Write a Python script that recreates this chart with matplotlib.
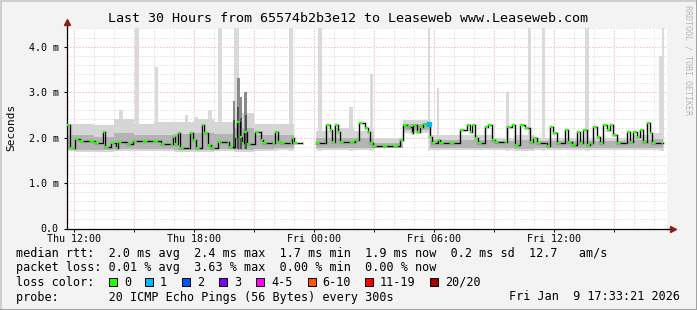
import matplotlib
matplotlib.use('Agg')
import matplotlib.pyplot as plt
import numpy as np
from matplotlib.patches import Rectangle
from matplotlib.lines import Line2D

# median rtt (ms) as steps, hours relative to Thu 12:00
med_hours = [-0.35, -0.20, 0.00, 0.05, 0.30, 1.05, 1.45, 1.55, 1.85, 2.10, 2.20, 2.65, 2.95,
             4.35, 4.95, 5.05, 5.20, 5.30, 5.80, 5.95, 6.10, 6.40, 6.50, 6.70, 6.85, 7.20,
             7.75, 8.05, 8.15, 8.30, 8.40, 8.50, 8.65, 9.05, 9.35, 9.45, 10.05, 10.20, 10.35,
             10.90, 11.00, 11.40, 12.10, 12.60, 12.80, 12.90, 13.05, 13.20, 13.30, 14.05,
             14.25, 14.55, 14.70, 14.80, 14.95, 16.30, 16.45, 16.65, 16.90, 16.95, 17.15,
             17.30, 17.45, 17.80, 17.90, 18.20, 18.30, 19.30, 19.65, 19.80, 19.90, 20.05,
             20.20, 20.55, 20.70, 20.90, 21.05, 21.65, 21.90, 22.05, 22.30, 22.55, 22.80,
             22.95, 23.15, 23.65, 23.80, 23.95, 24.15, 24.55, 24.70, 24.90, 25.15, 25.30,
             25.45, 25.65, 25.80, 25.95, 26.15, 26.30, 26.45, 26.65, 26.80, 26.95, 27.15,
             27.65, 27.80, 27.95, 28.15, 28.30, 28.45, 28.65, 28.80, 28.90, 29.45]
med_ms = [2.28, 1.77, 1.77, 1.96, 1.93, 1.89, 2.12, 1.80, 1.89, 1.78, 1.91, 1.85, 1.93,
          1.85, 2.02, 1.85, 2.10, 1.77, 2.10, 1.95, 1.78, 2.28, 2.10, 1.84, 1.77, 1.91,
          1.80, 2.02, 2.35, 2.02, 1.88, 2.13, 1.86, 2.13, 1.95, 1.88, 2.12, 1.91, 1.88,
          1.99, 1.89, np.nan, 1.89, 2.28, 2.17, 1.91, 2.28, 2.13, 1.90, 1.95,
          2.32, 2.21, 2.13, 1.88, 1.82, 1.95, 2.28, 2.24, 2.10, 2.28, 2.13,
          2.24, 2.30, 2.02, 1.89, 1.95, 1.88, 2.17, 2.28, 2.13, 2.28, 1.99,
          1.88, 2.24, 2.28, 1.95, 1.91, 2.24, 2.28, 1.84, 2.28, 2.21, 1.91,
          1.99, 1.89, 1.82, 2.24, 2.10, 1.88, 2.17, 1.91, 1.84, 2.13, 1.88,
          2.17, 1.84, 1.88, 2.24, 2.02, 1.88, 2.28, 2.17, 2.28, 2.06, 1.88,
          2.13, 1.91, 2.13, 2.02, 2.17, 1.91, 2.32, 2.10, 1.88, 1.88]

# smoke envelope (min / upper ping) per hour bin
smoke_hours = [-0.35, 0, 1, 2, 3, 4, 5, 6, 7, 8, 9, 10, 11, 11.40, 12.10, 13, 14, 15, 16.45,
               17.80, 19, 20, 21, 22, 23, 24, 25, 26, 27, 28, 29, 29.45]
smoke_lo = [1.70, 1.68, 1.68, 1.70, 1.70, 1.70, 1.68, 1.68, 1.70, 1.68, 1.70, 1.72, 1.72, np.nan,
            1.72, 1.72, 1.72, 1.76, 2.10, 1.72, 1.72, 1.72, 1.72, 1.70, 1.72, 1.72, 1.72, 1.72,
            1.72, 1.72, 1.72, 1.72]
smoke_hi = [2.30, 2.30, 2.28, 2.40, 2.30, 2.35, 2.35, 2.40, 2.35, 2.55, 2.30, 2.30, 2.25, np.nan,
            2.15, 2.20, 2.15, 1.98, 2.38, 2.05, 2.05, 2.05, 2.00, 2.05, 2.00, 2.00, 2.00, 2.00,
            2.00, 2.05, 2.10, 2.10]
# denser part of the smoke
mid_lo = [1.74, 1.73, 1.73, 1.74, 1.74, 1.74, 1.73, 1.73, 1.74, 1.73, 1.75, 1.76, 1.76, np.nan,
          1.76, 1.76, 1.76, 1.78, 2.16, 1.76, 1.76, 1.76, 1.76, 1.75, 1.76, 1.76, 1.76, 1.76,
          1.76, 1.76, 1.76, 1.76]
mid_hi = [2.05, 2.05, 2.02, 2.10, 2.05, 2.05, 2.08, 2.10, 2.08, 2.20, 2.05, 2.05, 2.02, np.nan,
          1.98, 2.00, 1.98, 1.88, 2.30, 1.94, 1.94, 1.94, 1.92, 1.94, 1.92, 1.92, 1.92, 1.92,
          1.92, 1.94, 1.96, 1.96]

# tall max-ping spikes: hour, top (ms), width (h)
spike_hours = [2.35, 3.15, 4.10, 5.60, 6.10, 6.80, 7.30, 8.10, 10.10, 10.85, 12.30, 13.85, 14.85,
               17.75, 18.20, 21.65, 22.75, 23.45, 25.65, 29.35, 29.45]
spike_top = [2.60, 4.42, 3.55, 2.50, 2.45, 2.60, 4.42, 4.42, 2.30, 4.42, 4.42, 2.67, 3.40,
             4.42, 3.10, 3.00, 4.42, 4.42, 4.42, 3.80, 4.42]
spike_width = [0.20, 0.20, 0.15, 0.15, 0.15, 0.20, 0.20, 0.25, 0.15, 0.20, 0.20, 0.20, 0.15,
               0.08, 0.10, 0.15, 0.15, 0.15, 0.20, 0.20, 0.08]
# dark smoke around the Thu 20:00 disturbance
dark_hours = [8.00, 8.20, 8.35, 8.60]
dark_top = [2.80, 3.30, 2.90, 3.00]
dark_width = [0.10, 0.15, 0.15, 0.15]

loss1_hour = [17.75]
loss1_ms = [2.30]

xtick_hours = [0, 6, 12, 18, 24]
xtick_labels = ['Thu 12:00', 'Thu 18:00', 'Fri 00:00', 'Fri 06:00', 'Fri 12:00']
ytick_vals = [0, 1, 2, 3, 4]
ytick_labels = ['0.0', '1.0 m', '2.0 m', '3.0 m', '4.0 m']

loss_labels = ['0', '1', '2', '3', '4-5', '6-10', '11-19', '20/20']
loss_colors = ['#26ff00', '#00b8ff', '#0059ff', '#7e00ff', '#ff00ff', '#ff5500', '#ff0000', '#a10000']

W, H = 697, 310
mono = 'DejaVu Sans Mono'


def fx(px):
    return px / W


def fy(py):
    return 1 - py / H


fig = plt.figure(figsize=(W / 100, H / 100), dpi=100, facecolor='#f3f3f3')
ax = fig.add_axes([fx(67), fy(228.5), 600 / W, 201 / H])
ax.set_facecolor('white')
ax.set_xlim(-0.35, 29.65)
ax.set_ylim(0, 4.42)

# grid
for h in np.arange(0, 30, 1):
    if h % 3 == 0:
        continue
    ax.axvline(h, color='#d0d0d0', lw=0.72, ls=(0, (1, 2)), zorder=0)
for v in np.arange(0.2, 4.42, 0.2):
    if abs(v - round(v)) < 0.01:
        continue
    ax.axhline(v, color='#d0d0d0', lw=0.72, ls=(0, (1, 2)), zorder=0)
for h in np.arange(0, 30, 3):
    ax.axvline(h, color='#f2a0a0', lw=0.72, ls=(0, (1, 2)), zorder=0)
for v in [1, 2, 3, 4]:
    ax.axhline(v, color='#f2a0a0', lw=0.72, ls=(0, (1, 2)), zorder=0)

# smoke
sh = np.array(smoke_hours)
ok = ~np.isnan(np.array(smoke_lo))
for h, t, w in zip(spike_hours, spike_top, spike_width):
    ax.bar(h, t - 1.7, bottom=1.7, width=w, color='#dadada', lw=0, zorder=1)
ax.fill_between(sh, smoke_lo, smoke_hi, where=ok, step='post', color='#d6d6d6', lw=0, zorder=1)
ax.fill_between(sh, mid_lo, mid_hi, where=ok, step='post', color='#b4b4b4', lw=0, zorder=1)
for h, t, w in zip(dark_hours, dark_top, dark_width):
    ax.bar(h, t - 1.75, bottom=1.75, width=w, color='#8a8a8a', lw=0, zorder=2)
    ax.bar(h, (t - 1.75) * 0.6, bottom=1.75, width=w * 0.7, color='#505050', lw=0, zorder=2)

mh = np.array(med_hours)
mv = np.array(med_ms)
ax.plot(mh, mv, drawstyle='steps-post', color='#666666', lw=2.4, alpha=0.3, zorder=2)
ax.plot(mh, mv, drawstyle='steps-post', color='black', lw=0.75, zorder=3)
# loss colour of the median: short green dashes along each held level
for i in range(len(mh) - 1):
    if np.isnan(mv[i]):
        continue
    ax.plot([mh[i], mh[i + 1]], [mv[i], mv[i]], color=loss_colors[0], lw=1.6,
            ls=(0.5, (2.2, 2.6)), solid_capstyle='butt', zorder=4)
ax.plot(loss1_hour, loss1_ms, 's', color=loss_colors[1], ms=2.5, zorder=5)

# axes
for s in ['top', 'right']:
    ax.spines[s].set_visible(False)
ax.spines['left'].set_linewidth(0.9)
ax.spines['bottom'].set_linewidth(0.9)
ax.set_xticks(xtick_hours)
ax.set_xticklabels(xtick_labels, fontsize=7.2, family=mono)
ax.set_yticks(ytick_vals)
ax.set_yticklabels(ytick_labels, fontsize=7.2, family=mono)
ax.tick_params(axis='x', length=2, pad=2)
ax.tick_params(axis='y', length=2, pad=4)
ax.set_xticks(np.arange(0, 30, 3), minor=True)
ax.tick_params(axis='x', which='minor', length=2)

fig.add_artist(Line2D([fx(667), fx(671)], [fy(228.5), fy(228.5)], color='black', lw=0.9))
fig.add_artist(Line2D([fx(67), fx(67)], [fy(27), fy(23)], color='black', lw=0.9))
fig.add_artist(Line2D([fx(673)], [fy(228.5)], marker='>', color='#8b1a1a', ms=4, lw=0))
fig.add_artist(Line2D([fx(67)], [fy(21.5)], marker='^', color='#8b1a1a', ms=4, lw=0))

fig.text(fx(11), fy(127), 'Seconds', rotation=90, fontsize=8, family=mono, ha='center', va='center')
fig.text(fx(348), fy(19), 'Last 30 Hours from 65574b2b3e12 to Leaseweb www.Leaseweb.com',
         fontsize=9.6, family=mono, ha='center', va='center')
fig.text(fx(688), fy(60), 'RRDTOOL / TOBI OETIKER', rotation=270, fontsize=6, family=mono,
         color='#b8b8b8', ha='center', va='center')

# legend
fs = 8.5
fig.text(fx(16), fy(254), 'median rtt:  2.0 ms avg  2.4 ms max  1.7 ms min  1.9 ms now  0.2 ms sd  12.7   am/s',
         fontsize=fs, family=mono, va='center')
fig.text(fx(16), fy(268), 'packet loss: 0.01 % avg  3.63 % max  0.00 % min  0.00 % now',
         fontsize=fs, family=mono, va='center')
fig.text(fx(16), fy(282), 'loss color:', fontsize=fs, family=mono, va='center')
box_px = [109, 145, 182, 219, 256, 307.5, 365, 430]
for lab, col, bx in zip(loss_labels, loss_colors, box_px):
    fig.add_artist(Rectangle((fx(bx), fy(286)), 8 / W, 8 / H, facecolor=col, edgecolor='black',
                             lw=0.7, transform=fig.transFigure))
    fig.text(fx(bx + 15), fy(282), lab, fontsize=fs, family=mono, va='center')
fig.text(fx(16), fy(297), 'probe:       20 ICMP Echo Pings (56 Bytes) every 300s',
         fontsize=fs, family=mono, va='center')
fig.text(fx(680), fy(297), 'Fri Jan  9 17:33:21 2026', fontsize=fs, family=mono, va='center',
         ha='right')

# frame
fig.add_artist(Line2D([0, 1], [fy(0.5), fy(0.5)], color='#cfcfcf', lw=1.4))
fig.add_artist(Line2D([fx(0.5), fx(0.5)], [0, 1], color='#cfcfcf', lw=1.4))
fig.add_artist(Line2D([0, 1], [fy(309.5), fy(309.5)], color='#a0a0a0', lw=1.4))
fig.add_artist(Line2D([fx(696.5), fx(696.5)], [0, 1], color='#a0a0a0', lw=1.4))

fig.savefig('out.png', dpi=100, facecolor=fig.get_facecolor())
